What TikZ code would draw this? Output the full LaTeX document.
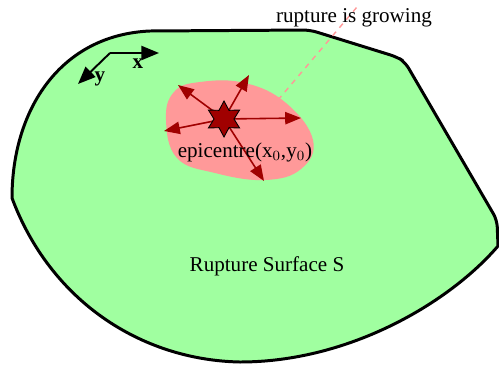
\documentclass[tikz,border=0pt]{standalone}
\usepackage{fontspec}
\setmainfont{Liberation Serif}
\usetikzlibrary{arrows.meta, shapes.geometric}
\definecolor{surfgreen}{HTML}{A0FFA0}
\definecolor{ruppink}{HTML}{FF9999}
\definecolor{epired}{HTML}{A00000}

\begin{document}
\begin{tikzpicture}[
				x=0.02cm, y=-0.02cm,
				lbl/.style={font=\fontsize{12}{14}\selectfont, inner sep=1pt},
				slip/.style={-{Triangle[length=9pt, width=7pt]}, epired, line width=0.9pt},
				axis/.style={-{Triangle[length=10pt, width=8pt]}, black, line width=1.1pt},
				>=Stealth
				]
				\useasboundingbox (0,0) rectangle (499,365);
				% rupture surface
				\draw[line width=1.7pt, fill=surfgreen, rounded corners=4pt]
					(150,31) -- (310,30) -- (397,57) -- (405,62) -- (497,220) [sharp corners] -- (498,246)
					.. controls (450,302) and (350,362) .. (240,362)
					.. controls (140,360) and (50,300) .. (12,198)
					.. controls (12,110) and (60,35) .. (150,31) -- cycle;
				% growing patch
				\fill[ruppink] plot[smooth cycle, tension=0.7] coordinates {
					(166,120) (174,92) (200,82) (245,83) (286,103) (313,140)
					(301,169) (265,180) (215,173) (177,158)};
				\coordinate (front) at (278,100);
				\coordinate (growtip) at (357,7);
				\draw[ruppink, line width=0.8pt, dash pattern=on 3pt off 3pt] (front) -- (growtip);
				\node[lbl] (growing) at (354,18) {rupture is growing};
				% coordinate axes
				\coordinate (org) at (110,53);
				\coordinate (xend) at (159,53);
				\coordinate (yend) at (78,84);
				\draw[axis] (org) -- (xend);
				\draw[axis] (org) -- (yend);
				\node[lbl, font=\fontsize{12}{14}\selectfont\bfseries] (xlab) at (138,64) {x};
				\node[lbl, font=\fontsize{12}{14}\selectfont\bfseries] (ylab) at (100,79) {y};
				% epicentre and slip directions
				\coordinate (epi) at (224,119);
				\coordinate (s1) at (178,85);
				\coordinate (s2) at (249,75);
				\coordinate (s3) at (301,118);
				\coordinate (s4) at (164,131);
				\coordinate (s5) at (264,181);
				\foreach \s in {s1,s2,s3,s4,s5}
					\draw[slip] (epi) -- (\s);
				\node[star, star points=6, star point ratio=1.8, minimum size=0.72cm, inner sep=0pt,
					draw=black, line width=0.5pt, fill=epired] (epistar) at (epi) {};
				\node[lbl] (epilab) at (245,152) {epicentre(x$_0$,y$_0$)};
				\node[lbl] (surf) at (267,266) {Rupture Surface S};
			\end{tikzpicture}
\end{document}
